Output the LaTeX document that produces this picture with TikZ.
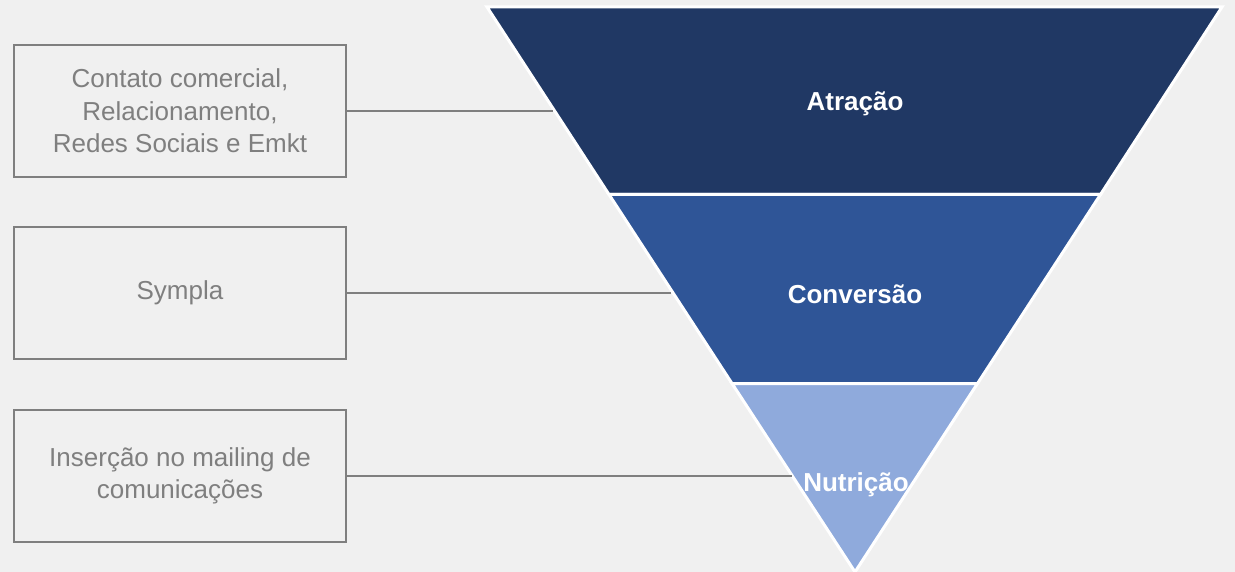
\documentclass[tikz,border=0pt]{standalone}
\usepackage{fontspec}
\setmainfont{Liberation Sans}
\definecolor{bg}{HTML}{F0F0F0}
\definecolor{navy}{HTML}{203864}
\definecolor{midblue}{HTML}{2F5597}
\definecolor{lightblue}{HTML}{8FAADC}
\definecolor{boxgray}{HTML}{7F7F7F}
\tikzset{
  srcbox/.style={draw=boxgray, line width=1pt, minimum width=166pt, minimum height=66pt,
    align=center, text=boxgray, font=\fontsize{13pt}{16.25pt}\selectfont, inner sep=0pt},
  stage/.style={draw=white, line width=1.5pt, line join=miter},
  stagelabel/.style={text=white, font=\bfseries\fontsize{13pt}{16pt}\selectfont, inner sep=0pt},
  link/.style={draw=boxgray, line width=0.75pt}
}
\begin{document}
\begin{tikzpicture}[x=0.5pt, y=-0.5pt]
\path[use as bounding box, fill=bg] (0,0) rectangle (1235,572);
% funnel stages
\path[stage, fill=navy] (487,7) -- (1222,7) -- (1100.5,194.5) -- (609,194.5) -- cycle;
\path[stage, fill=midblue] (609,194.5) -- (1100.5,194.5) -- (977.5,383.5) -- (732,383.5) -- cycle;
\path[stage, fill=lightblue] (732,383.5) -- (977.5,383.5) -- (855,572) -- cycle;
% stage labels
\node[stagelabel] (atr) at (855,104) {Atração};
\node[stagelabel] (conv) at (855,294) {Conversão};
\node[stagelabel] (nutr) at (856,485) {Nutrição};
% source boxes
\node[srcbox] (b1) at (180,111) {\raisebox{-1.5pt}{\parbox{160pt}{\centering Contato comercial,\\Relacionamento,\\Redes Sociais e Emkt}}};
\node[srcbox] (b2) at (180,293) {\raisebox{-1.5pt}{Sympla}};
\node[srcbox] (b3) at (180,476) {\raisebox{-1pt}{\parbox{160pt}{\centering Inserção no mailing de\\comunicações}}};
% connector ends on the funnel edge
\coordinate (e1) at (553,111);
\coordinate (e2) at (671,293);
\coordinate (e3) at (792,476);
\draw[link] (b1.east) -- (e1);
\draw[link] (b2.east) -- (e2);
\draw[link] (b3.east) -- (e3);
\end{tikzpicture}
\end{document}
